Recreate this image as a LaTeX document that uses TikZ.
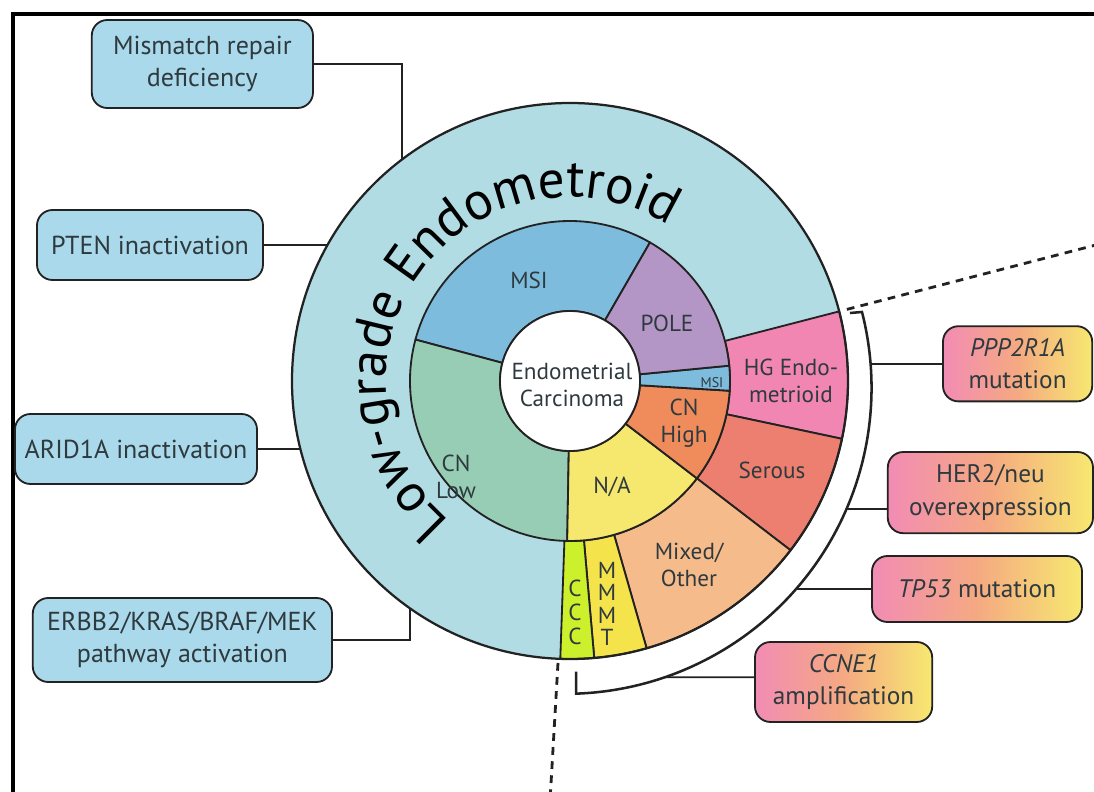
\documentclass[tikz,border=0pt]{standalone}
\usepackage{fontspec}
\setmainfont{PT Sans}
\usetikzlibrary{decorations.text}
\definecolor{LowGrade}{HTML}{B1DCE4}
\definecolor{BoxBlue}{HTML}{A9D9EA}
\definecolor{MSIBlue}{HTML}{7DBCDD}
\definecolor{PoleLilac}{HTML}{B496C6}
\definecolor{CNLowGreen}{HTML}{98CDB5}
\definecolor{CNHighOrange}{HTML}{F08C5C}
\definecolor{NAYellow}{HTML}{F6E86E}
\definecolor{HGPink}{HTML}{F286B2}
\definecolor{SerousRed}{HTML}{EC7F6F}
\definecolor{MixedPeach}{HTML}{F6BB8A}
\definecolor{CCCLime}{HTML}{CCF02C}
\definecolor{MMMTYellow}{HTML}{F5E34C}
\definecolor{GradPink}{HTML}{F28CB4}
\definecolor{GradPeach}{HTML}{F5A982}
\definecolor{GradYellow}{HTML}{F7E870}
\definecolor{Ink}{HTML}{222222}
\definecolor{BoxText}{HTML}{2E3A3E}

\begin{document}
\begin{tikzpicture}[
  font=\fontsize{16.5}{19.5}\selectfont,
  seg/.style={draw=Ink, line width=1.3pt, line join=round},
  segtext/.style={text=BoxText, align=center, inner sep=1pt},
  lgbox/.style={
    rounded corners=11pt,
    draw=Ink,
    line width=1.3pt,
    fill=BoxBlue,
    align=center,
    text=BoxText,
    inner sep=2pt,
    font=\fontsize{18.5}{22.5}\selectfont
  },
  hgbox/.style={
    rounded corners=11pt,
    draw=Ink,
    line width=1.3pt,
    left color=GradPink,
    right color=GradYellow,
    middle color=GradPeach,
    align=center,
    text=BoxText,
    inner sep=2pt,
    font=\fontsize{18}{23}\selectfont
  },
  link/.style={draw=Ink, line width=1.2pt},
  cutline/.style={draw=Ink, line width=2pt, dash pattern=on 5.5pt off 4.5pt},
  edgeline/.style={draw=black, line width=2.8pt}
]

\useasboundingbox (-14.25,-10.275) rectangle (13.1,9.525);
\draw[edgeline] (-13.925,-10.5) -- (-13.925,9.175) -- (13.4,9.175);

% boxes on the low-grade side
\node[lgbox, minimum width=5.53cm, minimum height=2.2cm] (mmr) at (-9.19,7.925)
  {Mismatch repair\\deficiency};
\node[lgbox, minimum width=5.65cm, minimum height=1.75cm] (pten) at (-10.5,3.4)
  {PTEN inactivation};
\node[lgbox, minimum width=6.05cm, minimum height=1.75cm] (arid) at (-10.85,-1.7)
  {ARID1A inactivation};
\node[lgbox, minimum width=7.48cm, minimum height=2.1cm] (erbb) at (-9.69,-6.475)
  {ERBB2/KRAS/BRAF/MEK\\pathway activation};

\coordinate (mmrEnd) at (-4.2,5.4);
\coordinate (ptenEnd) at (-5.9,3.4);
\coordinate (aridEnd) at (-6.6,-1.7);
\coordinate (erbbEnd) at (-4.0,-5.5);
\draw[link] (mmr.east) -| (mmrEnd);
\draw[link] (pten.east) -- (ptenEnd);
\draw[link] (arid.east) -- (aridEnd);
\draw[link] (erbb.east) -| (erbbEnd);

% boxes on the high-grade side
\node[hgbox, minimum width=3.73cm, minimum height=1.88cm] (ppp) at (11.19,0.43)
  {\textit{PPP2R1A}\\mutation};
\node[hgbox, minimum width=5.13cm, minimum height=2.03cm] (her) at (10.51,-2.79)
  {HER2/neu\\overexpression};
\node[hgbox, minimum width=5.25cm, minimum height=1.65cm] (tp) at (10.175,-5.2)
  {\textit{TP53} mutation};
\node[hgbox, minimum width=4.43cm, minimum height=2.0cm] (ccne) at (6.84,-7.525)
  {\textit{CCNE1}\\amplification};

\coordinate (pppEnd) at (7.5,0.43);
\coordinate (herEnd) at (6.9,-3.2);
\coordinate (tpEnd) at (5.66,-5.2);
\coordinate (ccneEnd) at (2.375,-7.405);
\draw[link] (ppp.west) -- (pppEnd);
\draw[link] ([yshift=-0.41cm]her.west) -- (herEnd);
\draw[link] (tp.west) -- (tpEnd);
\draw[link] ([yshift=0.12cm]ccne.west) -- (ccneEnd);

% outer ring
\fill[LowGrade] (0,0) circle (6.95);
\filldraw[seg, fill=HGPink] (-12:4) arc[start angle=-12, end angle=14.5, radius=4]
  -- (14.5:6.95) arc[start angle=14.5, end angle=-12, radius=6.95] -- cycle;
\filldraw[seg, fill=SerousRed] (-37.5:4) arc[start angle=-37.5, end angle=-12, radius=4]
  -- (-12:6.95) arc[start angle=-12, end angle=-37.5, radius=6.95] -- cycle;
\filldraw[seg, fill=MixedPeach] (-74:4) arc[start angle=-74, end angle=-37.5, radius=4]
  -- (-37.5:6.95) arc[start angle=-37.5, end angle=-74, radius=6.95] -- cycle;
\filldraw[seg, fill=MMMTYellow] (-85:4) arc[start angle=-85, end angle=-74, radius=4]
  -- (-74:6.95) arc[start angle=-74, end angle=-85, radius=6.95] -- cycle;
\filldraw[seg, fill=CCCLime] (-92:4) arc[start angle=-92, end angle=-85, radius=4]
  -- (-85:6.95) arc[start angle=-85, end angle=-92, radius=6.95] -- cycle;
\draw[seg, line width=1.6pt] (0,0) circle (6.95);

% inner ring
\filldraw[seg, fill=MSIBlue] (60:1.75) arc[start angle=60, end angle=165, radius=1.75]
  -- (165:4) arc[start angle=165, end angle=60, radius=4] -- cycle;
\filldraw[seg, fill=CNLowGreen] (165:1.75) arc[start angle=165, end angle=269, radius=1.75]
  -- (269:4) arc[start angle=269, end angle=165, radius=4] -- cycle;
\filldraw[seg, fill=NAYellow] (-91:1.75) arc[start angle=-91, end angle=-37.5, radius=1.75]
  -- (-37.5:4) arc[start angle=-37.5, end angle=-91, radius=4] -- cycle;
\filldraw[seg, fill=CNHighOrange] (-37.5:1.75) arc[start angle=-37.5, end angle=-3.5, radius=1.75]
  -- (-3.5:4) arc[start angle=-3.5, end angle=-37.5, radius=4] -- cycle;
\filldraw[seg, fill=MSIBlue] (-3.5:1.75) arc[start angle=-3.5, end angle=5.5, radius=1.75]
  -- (5.5:4) arc[start angle=5.5, end angle=-3.5, radius=4] -- cycle;
\filldraw[seg, fill=PoleLilac] (5.5:1.75) arc[start angle=5.5, end angle=60, radius=1.75]
  -- (60:4) arc[start angle=60, end angle=5.5, radius=4] -- cycle;
\filldraw[seg, fill=white] (0,0) circle (1.75);

% bracket round the high-grade slices
\draw[Ink, line width=1.8pt] (7.0,1.7) -- (7.3,1.725)
  arc[start angle=14.35, end angle=-88, radius=7.65] -- ++(0,0.55);
\draw[cutline] (14.5:7.15) -- (14.5:13.6);
\draw[cutline] (-0.3,-7.05) -- (-0.5,-10.5);

% ring title
\path[decorate, decoration={text along path, text align=center, text color=black,
  text={|\fontsize{38}{40}\selectfont|Low-grade Endometroid}}]
  (248.5:4.6) arc[start angle=248.5, end angle=38.5, radius=4.6];

% slice labels
\node[segtext] (core) at (0.05,-0.1) {Endometrial\\Carcinoma};
\node[segtext] (msi) at (-1.025,2.525) {MSI};
\node[segtext] (pole) at (2.425,1.45) {POLE};
\node[segtext, font=\fontsize{10}{12}\selectfont] (msiSmall) at (3.55,-0.05) {MSI};
\node[segtext] (cnHigh) at (2.85,-1.05) {CN\\High};
\node[segtext] (na) at (1.05,-2.65) {N/A};
\node[segtext] (cnLow) at (-2.85,-2.4) {CN\\Low};
\node[segtext] (hgEndo) at (5.525,0.0) {HG Endo-\\metrioid};
\node[segtext] (serous) at (5.05,-2.225) {Serous};
\node[segtext] (mixed) at (2.975,-4.6) {Mixed/\\Other};
\node[segtext, font=\fontsize{16.5}{17}\selectfont] (ccc) at (0.125,-5.775) {C\\C\\C};
\node[segtext, font=\fontsize{16.5}{16}\selectfont] (mmmt) at (0.925,-5.575) {M\\M\\M\\T};

\end{tikzpicture}
\end{document}
